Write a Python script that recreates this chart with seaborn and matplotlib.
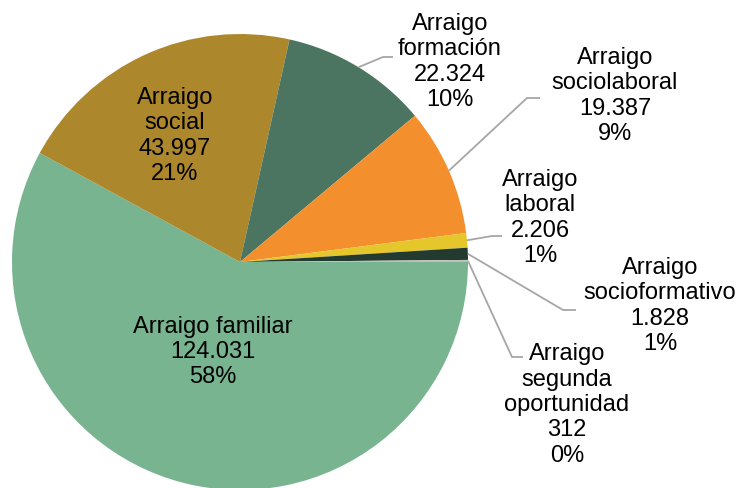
import numpy as np
import matplotlib
matplotlib.use("Agg")
import matplotlib.pyplot as plt
import seaborn as sns

sns.set_style("white")
plt.rcParams['font.family'] = ['Liberation Sans', 'DejaVu Sans']

categories = ["Arraigo familiar", "Arraigo social", "Arraigo formación",
              "Arraigo sociolaboral", "Arraigo laboral", "Arraigo socioformativo",
              "Arraigo segunda oportunidad"]
label_texts = ["Arraigo familiar", "Arraigo\nsocial", "Arraigo\nformación",
               "Arraigo\nsociolaboral", "Arraigo\nlaboral", "Arraigo\nsocioformativo",
               "Arraigo\nsegunda\noportunidad"]
values = [124031, 43997, 22324, 19387, 2206, 1828, 312]
colors = ["#77B48F", "#AD872C", "#4B7560", "#F38F2C", "#E6C72B", "#233A2E", "#BFBFBF"]

W, H = 739, 488
fig = plt.figure(figsize=(W / 100, H / 100), dpi=100)
ax = fig.add_axes([0, 0, 1, 1])

cx, cy, R = 240, H - 262, 228
wedges, _ = ax.pie(values, colors=colors, startangle=0, counterclock=False,
                   center=(cx, cy), radius=R, frame=True,
                   wedgeprops=dict(linewidth=0))
ax.set_xlim(0, W)
ax.set_ylim(0, H)
ax.set_aspect('equal')
ax.axis('off')

def fmt(v):
    return f"{v:,}".replace(",", ".")

total = sum(values)
# text centers (pixel coords, y from top) and leader elbow points
text_pos = [(213, 352), (175, 136), (450, 62), (615, 96), (540, 218), (660, 306), (567, 405)]
elbows = [None, None, ((383, 57), (393, 57)), ((527, 98), (540, 98)),
          ((492, 236), (502, 236)), ((563, 310), (576, 310)), ((512, 357), (523, 357))]

for i, (w, v) in enumerate(zip(wedges, values)):
    pct = round(100 * v / total)
    txt = f"{label_texts[i]}\n{fmt(v)}\n{pct}%"
    tx, ty = text_pos[i]
    ax.text(tx, H - ty, txt, ha='center', va='center', fontsize=17,
            color='black', linespacing=1.2)
    if elbows[i] is not None:
        ang = np.deg2rad((w.theta1 + w.theta2) / 2)
        px = cx + R * np.cos(ang)
        py = cy + R * np.sin(ang)
        (e1x, e1y), (e2x, e2y) = elbows[i]
        ax.plot([px, e1x, e2x], [py, H - e1y, H - e2y], color='#A6A6A6', lw=1.3,
                solid_capstyle='butt')

fig.savefig("out.png", dpi=100)
